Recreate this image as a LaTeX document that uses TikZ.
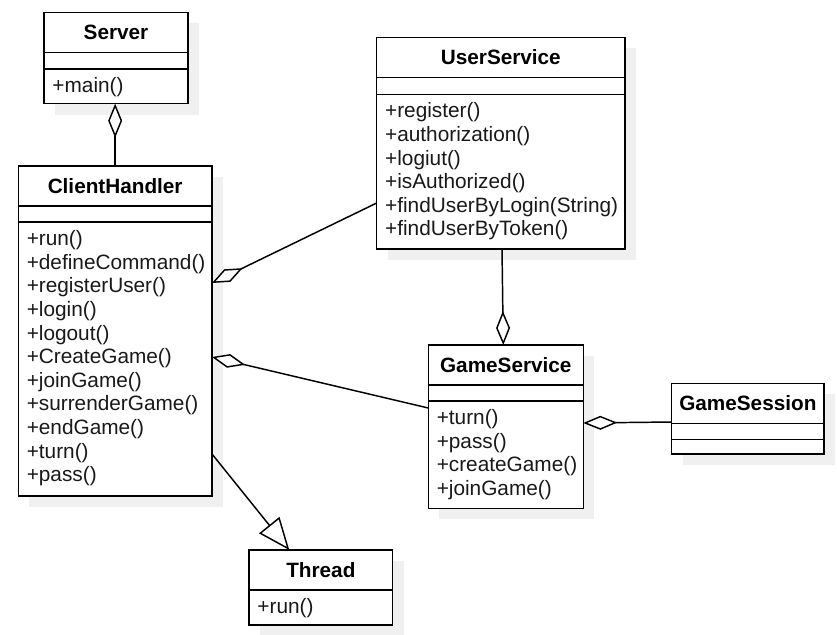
\documentclass[tikz,border=0pt]{standalone}
\usepackage{fontspec}
\setmainfont{Liberation Sans}
\usetikzlibrary{arrows.meta,fit,calc}
\pgfdeclarelayer{background}
\pgfsetlayers{background,main}
\definecolor{shadowc}{RGB}{240,240,240}
\newcommand\shadowof[1]{\begin{pgfonlayer}{background}\fill[shadowc] ($(#1.north west)+(11,11)$) rectangle ($(#1.south east)+(11,11)$);\end{pgfonlayer}}
\begin{document}
\begin{tikzpicture}[x=0.75pt,y=-0.75pt,
  cls/.style={draw=black,fill=white,line width=1.1pt,inner sep=0pt,outer sep=0pt},
  sep/.style={line width=1.1pt},
  title/.style={font=\fontsize{15.55}{18}\selectfont\bfseries,inner sep=0pt,anchor=center},
  meth/.style={font=\fontsize{15.6}{18}\selectfont,inner sep=0pt,anchor=base west,text=black!90},
  conn/.style={line width=1.1pt,line join=miter},
  agg/.style={-{Diamond[length=25.5pt,width=10.5pt,fill=white,line join=miter]}},
  gen/.style={-{Triangle[length=24pt,width=19.5pt,fill=white,line join=miter]}}]
\useasboundingbox (0,0) rectangle (837,634);

% Server
\node[cls,fit={(44,12.3) (188,103.7)}] (server) {};
\shadowof{server}
\draw[sep] (server.west |- 0,52.3) -- (server.east |- 0,52.3);
\draw[sep] (server.west |- 0,69) -- (server.east |- 0,69);
\node[title] (servert) at ($(server.north)!0.5!(server.north |- 0,52.3)$) {Server};
\node[meth] (serverm) at (52.2,92.7) {+main()};

% ClientHandler
\node[cls,fit={(18.3,166) (212,496)}] (ch) {};
\shadowof{ch}
\draw[sep] (ch.west |- 0,206) -- (ch.east |- 0,206);
\draw[sep] (ch.west |- 0,222) -- (ch.east |- 0,222);
\node[title] (cht) at ($(ch.north)!0.5!(ch.north |- 0,206)$) {ClientHandler};
\foreach \t [count=\i from 0] in {+run(),+defineCommand(),+registerUser(),+login(),+logout(),+CreateGame(),+joinGame(),+surrenderGame(),+endGame(),+turn(),+pass()}
  \node[meth] (chm\i) at (26.5,245.7+23.6*\i) {\t};

% UserService
\node[cls,fit={(376.7,37.3) (625,249)}] (us) {};
\shadowof{us}
\draw[sep] (us.west |- 0,77.7) -- (us.east |- 0,77.7);
\draw[sep] (us.west |- 0,94.3) -- (us.east |- 0,94.3);
\node[title] (ust) at ($(us.north)!0.5!(us.north |- 0,77.7)$) {UserService};
\foreach \t [count=\i from 0] in {+register(),+authorization(),+logiut(),+isAuthorized(),+findUserByLogin(String),+findUserByToken()}
  \node[meth] (usm\i) at (384.9,118+23.6*\i) {\t};

% GameService
\node[cls,fit={(428.3,345) (583.3,508.3)}] (gs) {};
\shadowof{gs}
\draw[sep] (gs.west |- 0,385) -- (gs.east |- 0,385);
\draw[sep] (gs.west |- 0,401) -- (gs.east |- 0,401);
\node[title] (gst) at ($(gs.north)!0.5!(gs.north |- 0,385)$) {GameService};
\foreach \t [count=\i from 0] in {+turn(),+pass(),+createGame(),+joinGame()}
  \node[meth] (gsm\i) at (436.5,424.7+23.6*\i) {\t};

% GameSession
\node[cls,fit={(671.7,383.3) (824,454)}] (gsess) {};
\shadowof{gsess}
\draw[sep] (gsess.west |- 0,423.7) -- (gsess.east |- 0,423.7);
\draw[sep] (gsess.west |- 0,439.3) -- (gsess.east |- 0,439.3);
\node[title] (gsesst) at ($(gsess.north)!0.5!(gsess.north |- 0,423.7)$) {GameSession};

% Thread
\node[cls,fit={(249,550) (392.7,625)}] (thread) {};
\shadowof{thread}
\draw[sep] (thread.west |- 0,590) -- (thread.east |- 0,590);
\node[title] (threadt) at ($(thread.north)!0.5!(thread.north |- 0,590)$) {Thread};
\node[meth] (threadm) at (257.2,613.7) {+run()};

% Connectors
\draw[conn,agg] (ch.north) -- (ch.north |- server.south);
\draw[conn,agg] (us.west |- 0,203) -- (ch.east |- 0,283);
\draw[conn,agg] (gs.west |- 0,408) -- (ch.east |- 0,357);
\draw[conn,agg] (us.south -| 502,0) -- (gs.north -| 503.3,0);
\draw[conn,agg] (gsess.west |- 0,422) -- (gs.east |- 0,423);
\draw[conn,gen] (ch.east |- 0,454) -- (thread.north -| 289.3,0);
\end{tikzpicture}
\end{document}
